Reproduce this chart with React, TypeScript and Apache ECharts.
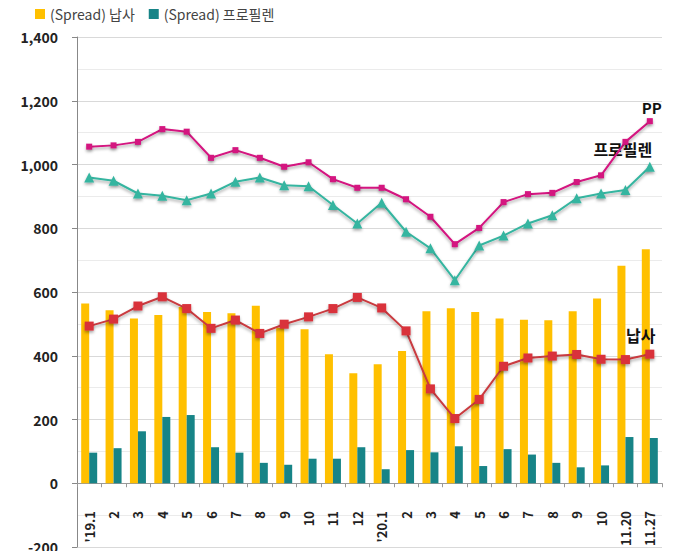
import React, { useEffect, useRef } from "react";
import * as echarts from "echarts";

const categories = ["'19.1", "2", "3", "4", "5", "6", "7", "8", "9", "10", "11", "12", "'20.1", "2", "3", "4", "5", "6", "7", "8", "9", "10", "11.20", "11.27"];
const naphthaSpread = [564, 543, 517, 528, 553, 537, 533, 557, 488, 483, 405, 345, 373, 415, 540, 549, 537, 517, 513, 511, 540, 580, 682, 734];
const propyleneSpread = [96, 110, 163, 208, 214, 113, 96, 64, 58, 77, 77, 113, 44, 104, 97, 116, 54, 107, 90, 64, 50, 56, 145, 142];
const ppPrice = [1056, 1060, 1071, 1111, 1103, 1021, 1045, 1021, 993, 1007, 954, 927, 927, 891, 836, 750, 801, 882, 907, 911, 945, 966, 1071, 1136];
const propylenePrice = [959, 949, 909, 902, 888, 909, 946, 959, 935, 932, 873, 815, 880, 789, 737, 637, 746, 777, 815, 841, 894, 909, 920, 993];
const naphthaPrice = [493, 515, 556, 585, 548, 486, 512, 470, 499, 522, 548, 583, 550, 478, 296, 203, 263, 367, 393, 399, 404, 389, 388, 405];

const FONT = "'Noto Sans CJK KR', 'Noto Sans', sans-serif";

function withEndLabel(values: number[], text: string, offset: number[], fontSize: number) {
  return values.map((v, i) =>
    i === values.length - 1
      ? {
          value: v,
          label: {
            show: true,
            position: "top",
            formatter: text,
            offset,
            color: "#111",
            fontWeight: "bold",
            fontSize,
            fontFamily: FONT,
          },
        }
      : v
  );
}

const shadow = { shadowColor: "rgba(0,0,0,0.35)", shadowBlur: 3, shadowOffsetY: 2 };

export default function App() {
  const ref = useRef<HTMLDivElement>(null);
  useEffect(() => {
    if (!ref.current) return;
    const chart = echarts.init(ref.current, null, { renderer: "svg" });
    chart.setOption({
      animation: false,
      textStyle: { fontFamily: FONT },
      legend: {
        data: ["(Spread) 납사", "(Spread) 프로필렌"],
        left: 30,
        top: 2,
        icon: "rect",
        itemWidth: 10,
        itemHeight: 10,
        itemGap: 14,
        textStyle: { fontSize: 14, color: "#444", fontFamily: FONT },
      },
      grid: { left: 77, right: 15, top: 37, bottom: 4, containLabel: false, outerBoundsMode: "none" },
      xAxis: {
        type: "category",
        data: categories,
        axisLine: { lineStyle: { color: "#999" } },
        axisTick: { show: true, length: 4, lineStyle: { color: "#999" } },
        axisLabel: {
          rotate: 90,
          margin: -36,
          color: "#222",
          fontSize: 13,
          fontWeight: "bold",
          fontFamily: FONT,
        },
      },
      yAxis: {
        type: "value",
        min: -200,
        max: 1400,
        interval: 200,
        axisLine: { show: true, lineStyle: { color: "#888" } },
        axisTick: { show: true, length: 5, lineStyle: { color: "#888" } },
        axisLabel: {
          margin: 19,
          color: "#222",
          fontSize: 14,
          fontWeight: "bold",
          fontFamily: FONT,
          formatter: (v: number) => v.toLocaleString("en-US"),
        },
        splitLine: { lineStyle: { color: "#d9d9d9" } },
        minorTick: { show: false, splitNumber: 2 },
        minorSplitLine: { show: true, lineStyle: { color: "#ebebeb" } },
      },
      series: [
        {
          name: "(Spread) 납사",
          type: "bar",
          data: naphthaSpread,
          barWidth: 8,
          barGap: "0%",
          itemStyle: { color: "#FFC000" },
          z: 2,
        },
        {
          name: "(Spread) 프로필렌",
          type: "bar",
          data: propyleneSpread,
          barWidth: 8,
          itemStyle: { color: "#178487" },
          z: 2,
        },
        {
          name: "PP",
          type: "line",
          data: withEndLabel(ppPrice, "PP", [2, 2], 15),
          symbol: "rect",
          symbolSize: 6,
          itemStyle: { color: "#D4137F", ...shadow },
          lineStyle: { color: "#D4137F", width: 2, ...shadow },
          z: 5,
        },
        {
          name: "프로필렌",
          type: "line",
          data: withEndLabel(propylenePrice, "프로필렌", [-27, 0], 16),
          symbol: "triangle",
          symbolSize: 10,
          itemStyle: { color: "#35B5A0", ...shadow },
          lineStyle: { color: "#35B5A0", width: 2, ...shadow },
          z: 4,
        },
        {
          name: "납사",
          type: "line",
          data: withEndLabel(naphthaPrice, "납사", [-9, -2], 16),
          symbol: "rect",
          symbolSize: 9,
          itemStyle: { color: "#D9303A", ...shadow },
          lineStyle: { color: "#C93A3F", width: 2, ...shadow },
          z: 6,
        },
      ],
    });
    return () => chart.dispose();
  }, []);
  return <div ref={ref} style={{ width: 677, height: 551, position: "absolute", left: 0, top: 0 }} />;
}
